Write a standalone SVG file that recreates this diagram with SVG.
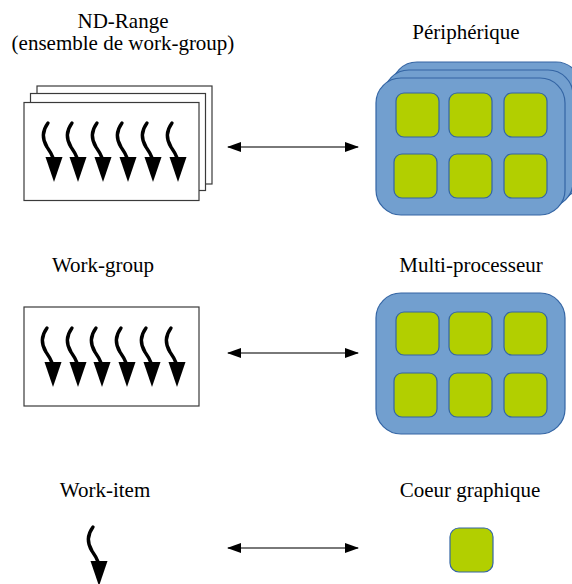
<svg xmlns="http://www.w3.org/2000/svg" xmlns:xlink="http://www.w3.org/1999/xlink" width="572" height="584" viewBox="0 0 572 584">
<style>
text{font-family:"Liberation Serif","DejaVu Serif",serif;font-size:21px;fill:#000;text-anchor:middle}
.page{fill:#fff;stroke:#3a3a3a;stroke-width:1.2}
.dev{fill:#729fcf;stroke:#3465a4;stroke-width:1.2}
.core{fill:#b2cf00;stroke:#3465a4;stroke-width:1.2}
.conn{stroke:#4d4d4d;stroke-width:1.5;fill:none}
</style>
<defs>
<g id="wi">
<path d="M0,0 C-6,8 -6,16 -1,24 C2,28 4,32 6,37" fill="none" stroke="#000" stroke-width="3.4" stroke-linecap="round"/>
<polygon points="-2.5,34 14.5,34 6,59" fill="#000"/>
</g>
<marker id="ah" viewBox="0 0 14 10" refX="13" refY="5" markerWidth="14" markerHeight="10" markerUnits="userSpaceOnUse" orient="auto-start-reverse">
<polygon points="0,0 14,5 0,10" fill="#000"/>
</marker>
</defs>

<g id="label-ndrange">
<text x="123" y="28">ND-Range</text>
<text x="123" y="50">(ensemble de work-group)</text>
</g>
<g id="label-peripherique"><text x="466" y="39">Périphérique</text></g>
<g id="label-workgroup"><text x="103" y="272">Work-group</text></g>
<g id="label-multiproc"><text x="471" y="272">Multi-processeur</text></g>
<g id="label-workitem"><text x="105" y="497">Work-item</text></g>
<g id="label-coeur"><text x="470" y="497">Coeur graphique</text></g>

<g id="ndrange">
<rect class="page" x="37" y="86" width="175" height="98"/>
<rect class="page" x="30.5" y="93.5" width="175" height="97"/>
<rect class="page" x="24" y="102.5" width="175" height="98"/>
<use xlink:href="#wi" x="48" y="123"/>
<use xlink:href="#wi" x="72" y="123"/>
<use xlink:href="#wi" x="97" y="123"/>
<use xlink:href="#wi" x="122" y="123"/>
<use xlink:href="#wi" x="147" y="123"/>
<use xlink:href="#wi" x="172" y="123"/>
</g>

<g id="workgroup">
<rect class="page" x="24" y="307" width="175" height="99"/>
<use xlink:href="#wi" x="47" y="328"/>
<use xlink:href="#wi" x="72" y="328"/>
<use xlink:href="#wi" x="96" y="328"/>
<use xlink:href="#wi" x="121" y="328"/>
<use xlink:href="#wi" x="146" y="328"/>
<use xlink:href="#wi" x="171" y="328"/>
</g>

<g id="workitem">
<use xlink:href="#wi" x="93" y="527"/>
</g>

<g id="peripherique">
<rect class="dev" x="392" y="62" width="189" height="137" rx="25"/>
<rect class="dev" x="384" y="70" width="189" height="137" rx="25"/>
<rect class="dev" x="376" y="78" width="189" height="137" rx="25"/>
<rect class="core" x="396" y="93" width="43" height="44" rx="8"/>
<rect class="core" x="449" y="93" width="43" height="44" rx="8"/>
<rect class="core" x="504" y="93" width="43" height="44" rx="8"/>
<rect class="core" x="394" y="154" width="43" height="44" rx="8"/>
<rect class="core" x="449" y="154" width="43" height="44" rx="8"/>
<rect class="core" x="504" y="154" width="43" height="44" rx="8"/>
</g>

<g id="multiprocesseur">
<rect class="dev" x="376" y="293" width="189" height="141" rx="25"/>
<rect class="core" x="396" y="312" width="43" height="43" rx="8"/>
<rect class="core" x="449" y="312" width="43" height="43" rx="8"/>
<rect class="core" x="504" y="312" width="43" height="43" rx="8"/>
<rect class="core" x="394" y="373" width="43" height="44" rx="8"/>
<rect class="core" x="449" y="373" width="43" height="44" rx="8"/>
<rect class="core" x="504" y="373" width="43" height="44" rx="8"/>
</g>

<g id="coeur">
<rect class="core" x="450" y="528" width="43" height="44" rx="9"/>
</g>

<g id="connectors">
<line class="conn" x1="228" y1="147" x2="358" y2="147" marker-start="url(#ah)" marker-end="url(#ah)"/>
<line class="conn" x1="228" y1="353" x2="358" y2="353" marker-start="url(#ah)" marker-end="url(#ah)"/>
<line class="conn" x1="228" y1="548" x2="358" y2="548" marker-start="url(#ah)" marker-end="url(#ah)"/>
</g>
</svg>
